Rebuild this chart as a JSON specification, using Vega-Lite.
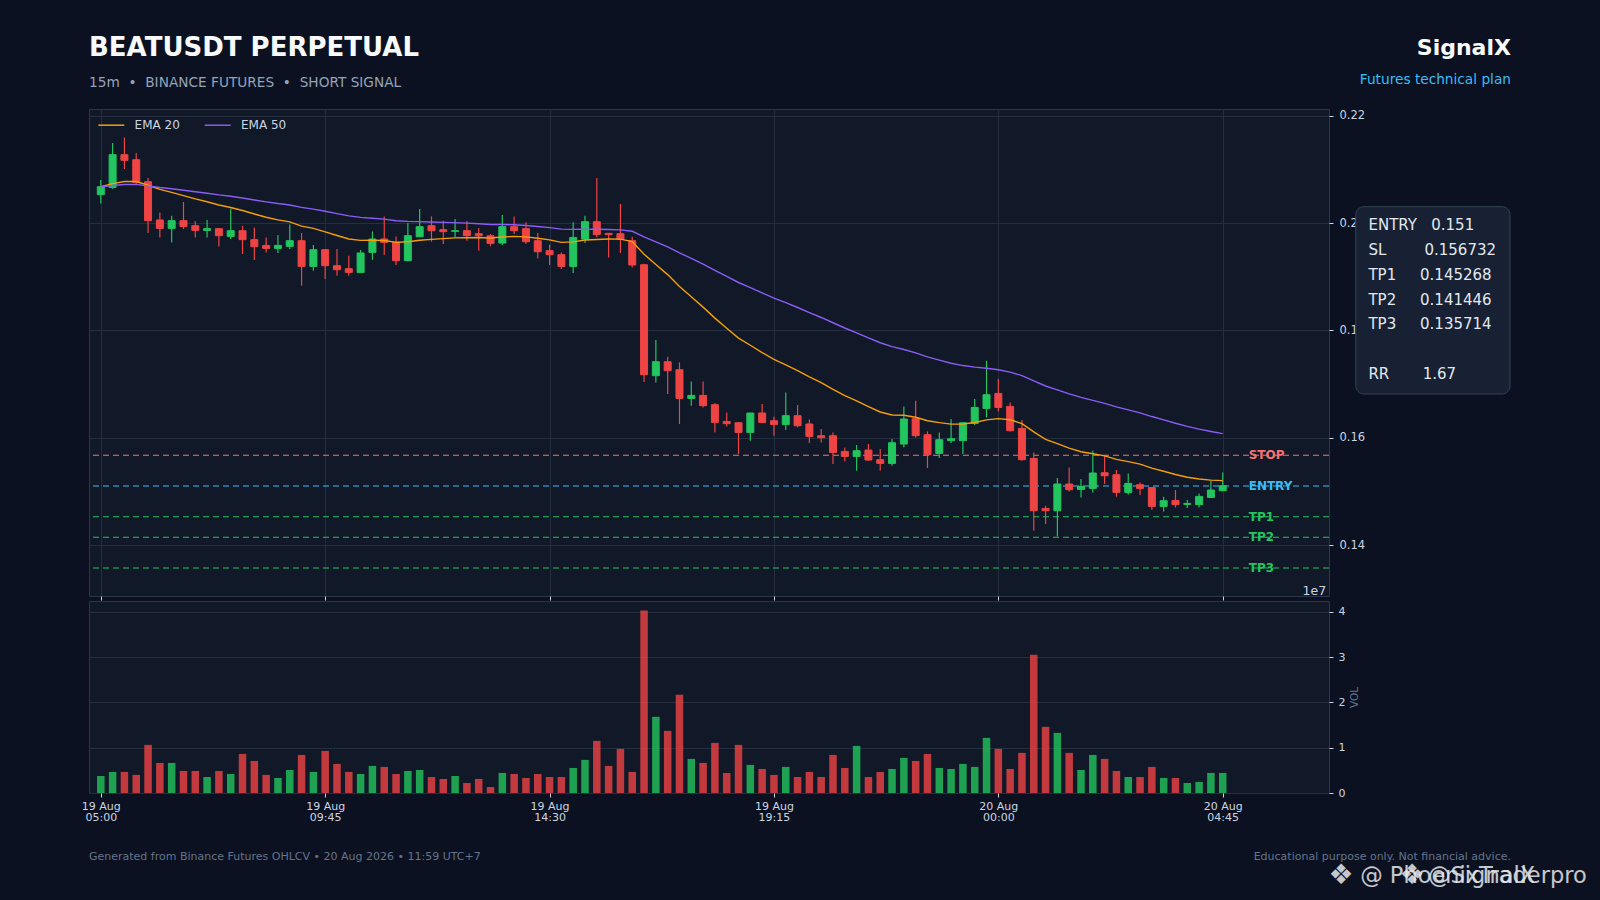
{
  "$schema": "https://vega.github.io/schema/vega-lite/v6.json",
  "background": "#0b1120",
  "padding": 0,
  "config": {
    "font": "DejaVu Sans",
    "view": {"stroke": "#2b3649", "fill": "#111827"},
    "axis": {"domain": false, "gridColor": "#232f40", "tickColor": "#cbd5e1", "tickSize": 4, "labelColor": "#cbd5e1", "labelFont": "DejaVu Sans"}
  },
  "datasets": {
    "candles": [
      {"i":0,"o":0.20528,"h":0.20802,"l":0.20366,"c":0.20677,"v":3760000,"ema20":0.20677,"ema50":0.20677},
      {"i":1,"o":0.20664,"h":0.21492,"l":0.20640,"c":0.21274,"v":4650000,"ema20":0.20734,"ema50":0.20700},
      {"i":2,"o":0.21274,"h":0.21596,"l":0.21007,"c":0.21168,"v":4650000,"ema20":0.20775,"ema50":0.20718},
      {"i":3,"o":0.21180,"h":0.21305,"l":0.20728,"c":0.20757,"v":4000000,"ema20":0.20773,"ema50":0.20720},
      {"i":4,"o":0.20770,"h":0.20839,"l":0.19814,"c":0.20044,"v":10630000,"ema20":0.20704,"ema50":0.20693},
      {"i":5,"o":0.20057,"h":0.20198,"l":0.19732,"c":0.19900,"v":6640000,"ema20":0.20627,"ema50":0.20662},
      {"i":6,"o":0.19900,"h":0.20137,"l":0.19639,"c":0.20044,"v":6640000,"ema20":0.20572,"ema50":0.20638},
      {"i":7,"o":0.20044,"h":0.20392,"l":0.19889,"c":0.19937,"v":4870000,"ema20":0.20511,"ema50":0.20611},
      {"i":8,"o":0.19950,"h":0.20031,"l":0.19732,"c":0.19863,"v":4870000,"ema20":0.20449,"ema50":0.20582},
      {"i":9,"o":0.19863,"h":0.20057,"l":0.19732,"c":0.19895,"v":3540000,"ema20":0.20396,"ema50":0.20555},
      {"i":10,"o":0.19895,"h":0.19901,"l":0.19565,"c":0.19764,"v":4870000,"ema20":0.20336,"ema50":0.20524},
      {"i":11,"o":0.19751,"h":0.20273,"l":0.19703,"c":0.19857,"v":4200000,"ema20":0.20290,"ema50":0.20498},
      {"i":12,"o":0.19857,"h":0.19950,"l":0.19423,"c":0.19690,"v":8630000,"ema20":0.20233,"ema50":0.20466},
      {"i":13,"o":0.19690,"h":0.19919,"l":0.19311,"c":0.19559,"v":7080000,"ema20":0.20169,"ema50":0.20430},
      {"i":14,"o":0.19583,"h":0.19732,"l":0.19453,"c":0.19527,"v":4000000,"ema20":0.20108,"ema50":0.20395},
      {"i":15,"o":0.19527,"h":0.19777,"l":0.19442,"c":0.19583,"v":3320000,"ema20":0.20058,"ema50":0.20363},
      {"i":16,"o":0.19565,"h":0.19975,"l":0.19516,"c":0.19671,"v":5090000,"ema20":0.20021,"ema50":0.20336},
      {"i":17,"o":0.19671,"h":0.19814,"l":0.18832,"c":0.19192,"v":8410000,"ema20":0.19942,"ema50":0.20291},
      {"i":18,"o":0.19192,"h":0.19591,"l":0.19112,"c":0.19503,"v":4650000,"ema20":0.19900,"ema50":0.20260},
      {"i":19,"o":0.19503,"h":0.19515,"l":0.18957,"c":0.19205,"v":9300000,"ema20":0.19834,"ema50":0.20219},
      {"i":20,"o":0.19205,"h":0.19516,"l":0.19019,"c":0.19130,"v":6420000,"ema20":0.19767,"ema50":0.20176},
      {"i":21,"o":0.19149,"h":0.19391,"l":0.19019,"c":0.19080,"v":4650000,"ema20":0.19702,"ema50":0.20133},
      {"i":22,"o":0.19080,"h":0.19498,"l":0.19069,"c":0.19442,"v":4200000,"ema20":0.19677,"ema50":0.20106},
      {"i":23,"o":0.19453,"h":0.19844,"l":0.19317,"c":0.19703,"v":5980000,"ema20":0.19679,"ema50":0.20090},
      {"i":24,"o":0.19703,"h":0.20124,"l":0.19404,"c":0.19639,"v":5760000,"ema20":0.19675,"ema50":0.20072},
      {"i":25,"o":0.19645,"h":0.19751,"l":0.19218,"c":0.19298,"v":4200000,"ema20":0.19639,"ema50":0.20042},
      {"i":26,"o":0.19298,"h":0.20001,"l":0.19286,"c":0.19764,"v":4870000,"ema20":0.19651,"ema50":0.20031},
      {"i":27,"o":0.19745,"h":0.20262,"l":0.19733,"c":0.19932,"v":5090000,"ema20":0.19678,"ema50":0.20027},
      {"i":28,"o":0.19950,"h":0.20124,"l":0.19652,"c":0.19857,"v":3540000,"ema20":0.19695,"ema50":0.20020},
      {"i":29,"o":0.19876,"h":0.20044,"l":0.19610,"c":0.19839,"v":3100000,"ema20":0.19709,"ema50":0.20013},
      {"i":30,"o":0.19845,"h":0.20075,"l":0.19733,"c":0.19857,"v":3760000,"ema20":0.19723,"ema50":0.20007},
      {"i":31,"o":0.19857,"h":0.20038,"l":0.19671,"c":0.19764,"v":2210000,"ema20":0.19727,"ema50":0.19998},
      {"i":32,"o":0.19801,"h":0.19908,"l":0.19485,"c":0.19764,"v":3100000,"ema20":0.19730,"ema50":0.19988},
      {"i":33,"o":0.19764,"h":0.19795,"l":0.19565,"c":0.19621,"v":1330000,"ema20":0.19720,"ema50":0.19974},
      {"i":34,"o":0.19627,"h":0.20150,"l":0.19590,"c":0.19932,"v":4430000,"ema20":0.19740,"ema50":0.19972},
      {"i":35,"o":0.19932,"h":0.20124,"l":0.19795,"c":0.19857,"v":4200000,"ema20":0.19751,"ema50":0.19968},
      {"i":36,"o":0.19895,"h":0.20013,"l":0.19610,"c":0.19652,"v":3320000,"ema20":0.19742,"ema50":0.19955},
      {"i":37,"o":0.19671,"h":0.19814,"l":0.19341,"c":0.19466,"v":4200000,"ema20":0.19716,"ema50":0.19936},
      {"i":38,"o":0.19485,"h":0.19596,"l":0.19218,"c":0.19410,"v":3540000,"ema20":0.19687,"ema50":0.19915},
      {"i":39,"o":0.19410,"h":0.19453,"l":0.19144,"c":0.19192,"v":3540000,"ema20":0.19640,"ema50":0.19887},
      {"i":40,"o":0.19192,"h":0.20013,"l":0.19069,"c":0.19732,"v":5530000,"ema20":0.19649,"ema50":0.19881},
      {"i":41,"o":0.19703,"h":0.20137,"l":0.19630,"c":0.20025,"v":7310000,"ema20":0.19685,"ema50":0.19887},
      {"i":42,"o":0.20025,"h":0.20839,"l":0.19733,"c":0.19783,"v":11510000,"ema20":0.19694,"ema50":0.19883},
      {"i":43,"o":0.19808,"h":0.19808,"l":0.19360,"c":0.19783,"v":5980000,"ema20":0.19702,"ema50":0.19879},
      {"i":44,"o":0.19801,"h":0.20355,"l":0.19442,"c":0.19695,"v":9740000,"ema20":0.19701,"ema50":0.19872},
      {"i":45,"o":0.19671,"h":0.19745,"l":0.19173,"c":0.19218,"v":4650000,"ema20":0.19655,"ema50":0.19846},
      {"i":46,"o":0.19223,"h":0.19242,"l":0.17038,"c":0.17174,"v":40300000,"ema20":0.19419,"ema50":0.19741},
      {"i":47,"o":0.17155,"h":0.17820,"l":0.17030,"c":0.17416,"v":16830000,"ema20":0.19228,"ema50":0.19650},
      {"i":48,"o":0.17416,"h":0.17509,"l":0.16814,"c":0.17248,"v":13730000,"ema20":0.19039,"ema50":0.19556},
      {"i":49,"o":0.17267,"h":0.17403,"l":0.16255,"c":0.16732,"v":21700000,"ema20":0.18819,"ema50":0.19445},
      {"i":50,"o":0.16732,"h":0.17049,"l":0.16596,"c":0.16788,"v":7530000,"ema20":0.18626,"ema50":0.19341},
      {"i":51,"o":0.16788,"h":0.17049,"l":0.16564,"c":0.16596,"v":6640000,"ema20":0.18433,"ema50":0.19233},
      {"i":52,"o":0.16615,"h":0.16640,"l":0.16098,"c":0.16285,"v":11070000,"ema20":0.18228,"ema50":0.19118},
      {"i":53,"o":0.16303,"h":0.16471,"l":0.16210,"c":0.16261,"v":4430000,"ema20":0.18041,"ema50":0.19006},
      {"i":54,"o":0.16279,"h":0.16285,"l":0.15696,"c":0.16098,"v":10630000,"ema20":0.17856,"ema50":0.18892},
      {"i":55,"o":0.16098,"h":0.16460,"l":0.15944,"c":0.16460,"v":6200000,"ema20":0.17723,"ema50":0.18797},
      {"i":56,"o":0.16460,"h":0.16628,"l":0.16274,"c":0.16285,"v":5310000,"ema20":0.17586,"ema50":0.18698},
      {"i":57,"o":0.16316,"h":0.16391,"l":0.16037,"c":0.16247,"v":4000000,"ema20":0.17459,"ema50":0.18602},
      {"i":58,"o":0.16247,"h":0.16844,"l":0.16143,"c":0.16410,"v":5760000,"ema20":0.17359,"ema50":0.18516},
      {"i":59,"o":0.16410,"h":0.16609,"l":0.16192,"c":0.16223,"v":3540000,"ema20":0.17251,"ema50":0.18426},
      {"i":60,"o":0.16255,"h":0.16341,"l":0.15901,"c":0.16024,"v":4650000,"ema20":0.17134,"ema50":0.18332},
      {"i":61,"o":0.16037,"h":0.16162,"l":0.15912,"c":0.16000,"v":3540000,"ema20":0.17026,"ema50":0.18240},
      {"i":62,"o":0.16037,"h":0.16098,"l":0.15509,"c":0.15726,"v":8410000,"ema20":0.16902,"ema50":0.18142},
      {"i":63,"o":0.15744,"h":0.15819,"l":0.15558,"c":0.15651,"v":5530000,"ema20":0.16783,"ema50":0.18044},
      {"i":64,"o":0.15651,"h":0.15864,"l":0.15385,"c":0.15757,"v":10400000,"ema20":0.16685,"ema50":0.17954},
      {"i":65,"o":0.15770,"h":0.15882,"l":0.15571,"c":0.15584,"v":3540000,"ema20":0.16580,"ema50":0.17861},
      {"i":66,"o":0.15590,"h":0.15789,"l":0.15385,"c":0.15521,"v":4650000,"ema20":0.16479,"ema50":0.17769},
      {"i":67,"o":0.15521,"h":0.15975,"l":0.15478,"c":0.15906,"v":5310000,"ema20":0.16424,"ema50":0.17696},
      {"i":68,"o":0.15882,"h":0.16583,"l":0.15819,"c":0.16348,"v":7750000,"ema20":0.16417,"ema50":0.17643},
      {"i":69,"o":0.16354,"h":0.16689,"l":0.16005,"c":0.16037,"v":7080000,"ema20":0.16381,"ema50":0.17580},
      {"i":70,"o":0.16056,"h":0.16117,"l":0.15435,"c":0.15683,"v":8630000,"ema20":0.16315,"ema50":0.17506},
      {"i":71,"o":0.15707,"h":0.16098,"l":0.15621,"c":0.15962,"v":5530000,"ema20":0.16281,"ema50":0.17445},
      {"i":72,"o":0.15944,"h":0.16348,"l":0.15901,"c":0.15981,"v":5310000,"ema20":0.16252,"ema50":0.17388},
      {"i":73,"o":0.15944,"h":0.16279,"l":0.15696,"c":0.16279,"v":6420000,"ema20":0.16255,"ema50":0.17344},
      {"i":74,"o":0.16266,"h":0.16721,"l":0.16236,"c":0.16564,"v":5760000,"ema20":0.16284,"ema50":0.17314},
      {"i":75,"o":0.16546,"h":0.17435,"l":0.16378,"c":0.16801,"v":12180000,"ema20":0.16333,"ema50":0.17294},
      {"i":76,"o":0.16825,"h":0.17094,"l":0.16490,"c":0.16564,"v":9740000,"ema20":0.16355,"ema50":0.17265},
      {"i":77,"o":0.16583,"h":0.16658,"l":0.16117,"c":0.16130,"v":5310000,"ema20":0.16334,"ema50":0.17221},
      {"i":78,"o":0.16173,"h":0.16330,"l":0.15571,"c":0.15590,"v":8860000,"ema20":0.16263,"ema50":0.17157},
      {"i":79,"o":0.15614,"h":0.15726,"l":0.14266,"c":0.14639,"v":30550000,"ema20":0.16108,"ema50":0.17058},
      {"i":80,"o":0.14682,"h":0.14732,"l":0.14391,"c":0.14639,"v":14610000,"ema20":0.15968,"ema50":0.16963},
      {"i":81,"o":0.14639,"h":0.15249,"l":0.14160,"c":0.15137,"v":13280000,"ema20":0.15889,"ema50":0.16891},
      {"i":82,"o":0.15137,"h":0.15446,"l":0.14999,"c":0.15031,"v":8860000,"ema20":0.15807,"ema50":0.16818},
      {"i":83,"o":0.15036,"h":0.15230,"l":0.14887,"c":0.15092,"v":5090000,"ema20":0.15739,"ema50":0.16750},
      {"i":84,"o":0.15055,"h":0.15757,"l":0.14980,"c":0.15342,"v":8410000,"ema20":0.15701,"ema50":0.16695},
      {"i":85,"o":0.15347,"h":0.15664,"l":0.15137,"c":0.15291,"v":7530000,"ema20":0.15662,"ema50":0.16640},
      {"i":86,"o":0.15310,"h":0.15398,"l":0.14900,"c":0.14980,"v":4870000,"ema20":0.15597,"ema50":0.16575},
      {"i":87,"o":0.14980,"h":0.15334,"l":0.14937,"c":0.15148,"v":3540000,"ema20":0.15554,"ema50":0.16519},
      {"i":88,"o":0.15124,"h":0.15167,"l":0.14932,"c":0.15055,"v":3540000,"ema20":0.15507,"ema50":0.16462},
      {"i":89,"o":0.15073,"h":0.15073,"l":0.14652,"c":0.14719,"v":5760000,"ema20":0.15432,"ema50":0.16394},
      {"i":90,"o":0.14719,"h":0.14900,"l":0.14626,"c":0.14826,"v":3320000,"ema20":0.15374,"ema50":0.16332},
      {"i":91,"o":0.14831,"h":0.15025,"l":0.14701,"c":0.14751,"v":3320000,"ema20":0.15315,"ema50":0.16270},
      {"i":92,"o":0.14757,"h":0.14839,"l":0.14690,"c":0.14775,"v":2210000,"ema20":0.15264,"ema50":0.16211},
      {"i":93,"o":0.14751,"h":0.14962,"l":0.14701,"c":0.14906,"v":2440000,"ema20":0.15230,"ema50":0.16160},
      {"i":94,"o":0.14887,"h":0.15198,"l":0.14876,"c":0.15025,"v":4430000,"ema20":0.15210,"ema50":0.16116},
      {"i":95,"o":0.15012,"h":0.15353,"l":0.15000,"c":0.15105,"v":4430000,"ema20":0.15200,"ema50":0.16076}
    ],
    "levels": [
      {"name": "STOP", "price": 0.156732},
      {"name": "ENTRY", "price": 0.151},
      {"name": "TP1", "price": 0.145268},
      {"name": "TP2", "price": 0.141446},
      {"name": "TP3", "price": 0.135714}
    ]
  },
  "bounds": "flush",
  "spacing": 5,
  "resolve": {"scale": {"x": "independent", "y": "independent", "color": "independent"}},
  "vconcat": [
    {
      "width": 1240,
      "height": 487,
      "resolve": {"scale": {"color": "independent"}},
      "layer": [
        {
          "data": {"values": [{}]},
          "mark": {"type": "rect", "fill": "#0b1120", "opacity": 0, "strokeWidth": 0},
          "encoding": {
            "x": {"datum": -8.477, "type": "quantitative"},
            "x2": {"datum": 127.007},
            "y": {"datum": 0.241431, "type": "quantitative"},
            "y2": {"datum": 0.073723}
          }
        },
        {
          "data": {"name": "levels"},
          "mark": {"type": "text", "align": "left", "baseline": "middle", "fontSize": 12, "fontWeight": "bold"},
          "encoding": {
            "x": {"datum": 97.2, "type": "quantitative"},
            "y": {"field": "price", "type": "quantitative"},
            "text": {"field": "name"},
            "color": {"field": "name", "type": "nominal", "scale": {"domain": ["STOP", "ENTRY", "TP1", "TP2", "TP3"], "range": ["#f87171", "#38bdf8", "#22c55e", "#22c55e", "#22c55e"]}, "legend": null}
          }
        },
        {
          "data": {"name": "levels"},
          "mark": {"type": "rule", "strokeDash": [6, 4], "strokeWidth": 1.2},
          "encoding": {
            "y": {"field": "price", "type": "quantitative"},
            "color": {"field": "name", "type": "nominal", "scale": {"domain": ["STOP", "ENTRY", "TP1", "TP2", "TP3"], "range": ["#f87171", "#38bdf8", "#22c55e", "#22c55e", "#22c55e"]}, "legend": null}
          }
        },
        {
          "data": {"name": "candles"},
          "mark": {"type": "rule", "strokeWidth": 1.2},
          "encoding": {
            "x": {
              "field": "i", "type": "quantitative",
              "scale": {"domain": [-1, 104], "nice": false, "zero": false, "padding": 0},
              "axis": {"values": [0, 19, 38, 57, 76, 95], "labels": false, "grid": true, "title": null, "orient": "bottom"}
            },
            "y": {
              "field": "l", "type": "quantitative",
              "scale": {"domain": [0.1305, 0.22125], "nice": false, "zero": false, "padding": 0},
              "axis": {"orient": "right", "values": [0.14, 0.16, 0.18, 0.2, 0.22], "format": ".2f", "labelFontSize": 11.5, "labelPadding": 6, "grid": true, "title": null}
            },
            "y2": {"field": "h"},
            "color": {"condition": {"test": "datum.c >= datum.o", "value": "#22c55e"}, "value": "#ef4444"}
          }
        },
        {
          "data": {"name": "candles"},
          "mark": {"type": "bar", "size": 7, "strokeWidth": 1},
          "encoding": {
            "x": {"field": "i", "type": "quantitative"},
            "y": {"field": "o", "type": "quantitative"},
            "y2": {"field": "c"},
            "fill": {"condition": {"test": "datum.c >= datum.o", "value": "#22c55e"}, "value": "#ef4444"},
            "stroke": {"condition": {"test": "datum.c >= datum.o", "value": "#22c55e"}, "value": "#ef4444"}
          }
        },
        {
          "data": {"name": "candles"},
          "transform": [{"fold": ["ema20", "ema50"], "as": ["series", "ema"]}],
          "mark": {"type": "line", "strokeWidth": 1.4},
          "encoding": {
            "x": {"field": "i", "type": "quantitative"},
            "y": {"field": "ema", "type": "quantitative"},
            "color": {
              "field": "series", "type": "nominal",
              "scale": {"domain": ["ema20", "ema50"], "range": ["#f59e0b", "#8b5cf6"]},
              "legend": {
                "orient": "none", "legendX": 8.3, "legendY": 2.2, "direction": "horizontal", "title": null,
                "symbolType": "stroke", "symbolSize": 676, "symbolStrokeWidth": 1.5,
                "labelColor": "#cbd5e1", "labelFontSize": 12, "labelOffset": 9.3, "columnPadding": 21.4, "padding": 0,
                "labelExpr": "datum.label == 'ema20' ? 'EMA 20' : 'EMA 50'"
              }
            }
          }
        },
        {
          "data": {"values": [{}]},
          "mark": {"type": "rect", "cornerRadius": 8, "fill": "#172133", "stroke": "#334155", "strokeWidth": 1},
          "encoding": {
            "x": {"datum": 106.27, "type": "quantitative"},
            "x2": {"datum": 119.33},
            "y": {"datum": 0.20305, "type": "quantitative"},
            "y2": {"datum": 0.16814}
          }
        },
        {
          "data": {"values": [{}]},
          "mark": {
            "type": "text", "align": "left", "baseline": "alphabetic", "fontSize": 15, "lineHeight": 24.7, "color": "#e2e8f0",
            "text": ["ENTRY\u00a0\u00a0\u00a00.151", "SL\u00a0\u00a0\u00a0\u00a0\u00a0\u00a0\u00a0\u00a00.156732", "TP1\u00a0\u00a0\u00a0\u00a0\u00a00.145268", "TP2\u00a0\u00a0\u00a0\u00a0\u00a00.141446", "TP3\u00a0\u00a0\u00a0\u00a0\u00a00.135714"]
          },
          "encoding": {
            "x": {"datum": 107.34, "type": "quantitative"},
            "y": {"datum": 0.19861, "type": "quantitative"}
          }
        },
        {
          "data": {"values": [{}]},
          "mark": {"type": "text", "text": "RR\u00a0\u00a0\u00a0\u00a0\u00a0\u00a0\u00a01.67", "align": "left", "baseline": "alphabetic", "fontSize": 15, "color": "#e2e8f0"},
          "encoding": {
            "x": {"datum": 107.34, "type": "quantitative"},
            "y": {"datum": 0.17095, "type": "quantitative"}
          }
        },
        {
          "data": {"values": [{}]},
          "mark": {"type": "text", "text": "BEATUSDT PERPETUAL", "align": "left", "baseline": "alphabetic", "fontSize": 26, "fontWeight": "bold", "color": "#f8fafc"},
          "encoding": {"x": {"datum": -1, "type": "quantitative"}, "y": {"datum": 0.23109, "type": "quantitative"}}
        },
        {
          "data": {"values": [{}]},
          "mark": {"type": "text", "text": "15m\u00a0\u00a0•\u00a0\u00a0BINANCE FUTURES\u00a0\u00a0•\u00a0\u00a0SHORT SIGNAL", "align": "left", "baseline": "alphabetic", "fontSize": 13.7, "color": "#94a3b8"},
          "encoding": {"x": {"datum": -1, "type": "quantitative"}, "y": {"datum": 0.22535, "type": "quantitative"}}
        },
        {
          "data": {"values": [{}]},
          "mark": {"type": "text", "text": "SignalX", "align": "right", "baseline": "alphabetic", "fontSize": 22, "fontWeight": "bold", "color": "#f8fafc"},
          "encoding": {"x": {"datum": 119.41, "type": "quantitative"}, "y": {"datum": 0.23137, "type": "quantitative"}}
        },
        {
          "data": {"values": [{}]},
          "mark": {"type": "text", "text": "Futures technical plan", "align": "right", "baseline": "alphabetic", "fontSize": 13.7, "color": "#38bdf8"},
          "encoding": {"x": {"datum": 119.41, "type": "quantitative"}, "y": {"datum": 0.22597, "type": "quantitative"}}
        },
        {
          "data": {"values": [{}]},
          "mark": {"type": "text", "text": "1e7", "align": "right", "baseline": "middle", "fontSize": 12.5, "color": "#cbd5e1"},
          "encoding": {"x": {"datum": 103.76, "type": "quantitative"}, "y": {"datum": 0.13135, "type": "quantitative"}}
        }
      ]
    },
    {
      "width": 1240,
      "height": 192,
      "layer": [
        {
          "data": {"name": "candles"},
          "mark": {"type": "bar", "size": 7.5, "opacity": 0.8, "orient": "vertical"},
          "encoding": {
            "x": {
              "field": "i", "type": "quantitative",
              "scale": {"domain": [-1, 104], "nice": false, "zero": false, "padding": 0},
              "axis": {
                "values": [0, 19, 38, 57, 76, 95], "grid": false, "title": null, "labelOverlap": false,
                "labelFontSize": 11, "labelLineHeight": 11.5, "labelPadding": 3,
                "labelExpr": "[['19 Aug','05:00'],['19 Aug','09:45'],['19 Aug','14:30'],['19 Aug','19:15'],['20 Aug','00:00'],['20 Aug','04:45']][round(datum.value/19)]"
              }
            },
            "y": {
              "field": "v", "type": "quantitative",
              "scale": {"domain": [0, 42400000], "nice": false, "zero": false, "padding": 0},
              "axis": {
                "orient": "right", "values": [0, 10000000, 20000000, 30000000, 40000000],
                "labelExpr": "format(datum.value / 10000000, 'd')", "labelFontSize": 11, "labelPadding": 5, "grid": true,
                "title": "VOL", "titleColor": "#64748b", "titleFontSize": 10.5, "titleFontWeight": "normal", "titleAngle": 270, "titleBaseline": "top", "titlePadding": 5
              }
            },
            "y2": {"datum": 0},
            "fill": {"condition": {"test": "datum.c >= datum.o", "value": "#22c55e"}, "value": "#ef4444"}
          }
        },
        {
          "data": {"values": [{}]},
          "mark": {"type": "text", "text": "Generated from Binance Futures OHLCV • 20 Aug 2026 • 11:59 UTC+7", "align": "left", "baseline": "middle", "fontSize": 11, "color": "#64748b"},
          "encoding": {"x": {"datum": -1, "type": "quantitative"}, "y": {"datum": -14160000, "type": "quantitative"}}
        },
        {
          "data": {"values": [{}]},
          "mark": {"type": "text", "text": "Educational purpose only. Not financial advice.", "align": "right", "baseline": "middle", "fontSize": 11, "color": "#64748b"},
          "encoding": {"x": {"datum": 119.41, "type": "quantitative"}, "y": {"datum": -14160000, "type": "quantitative"}}
        },
        {
          "data": {"values": [{}]},
          "mark": {"type": "text", "text": "❖", "align": "center", "baseline": "middle", "fontSize": 28, "color": "#e5e7eb", "opacity": 0.85},
          "encoding": {"x": {"datum": 105.03, "type": "quantitative"}, "y": {"datum": -18250000, "type": "quantitative"}}
        },
        {
          "data": {"values": [{}]},
          "mark": {"type": "text", "text": "@ PhoenixTraderpro", "align": "left", "baseline": "middle", "fontSize": 22.5, "color": "#e5e7eb", "opacity": 0.85},
          "encoding": {"x": {"datum": 106.64, "type": "quantitative"}, "y": {"datum": -18250000, "type": "quantitative"}}
        },
        {
          "data": {"values": [{}]},
          "mark": {"type": "text", "text": "❖", "align": "center", "baseline": "middle", "fontSize": 28, "color": "#e5e7eb", "opacity": 0.85},
          "encoding": {"x": {"datum": 111.04, "type": "quantitative"}, "y": {"datum": -18250000, "type": "quantitative"}}
        },
        {
          "data": {"values": [{}]},
          "mark": {"type": "text", "text": "@SignalX", "align": "left", "baseline": "middle", "fontSize": 22.5, "color": "#e5e7eb", "opacity": 0.85},
          "encoding": {"x": {"datum": 112.39, "type": "quantitative"}, "y": {"datum": -18250000, "type": "quantitative"}}
        }
      ]
    }
  ]
}
